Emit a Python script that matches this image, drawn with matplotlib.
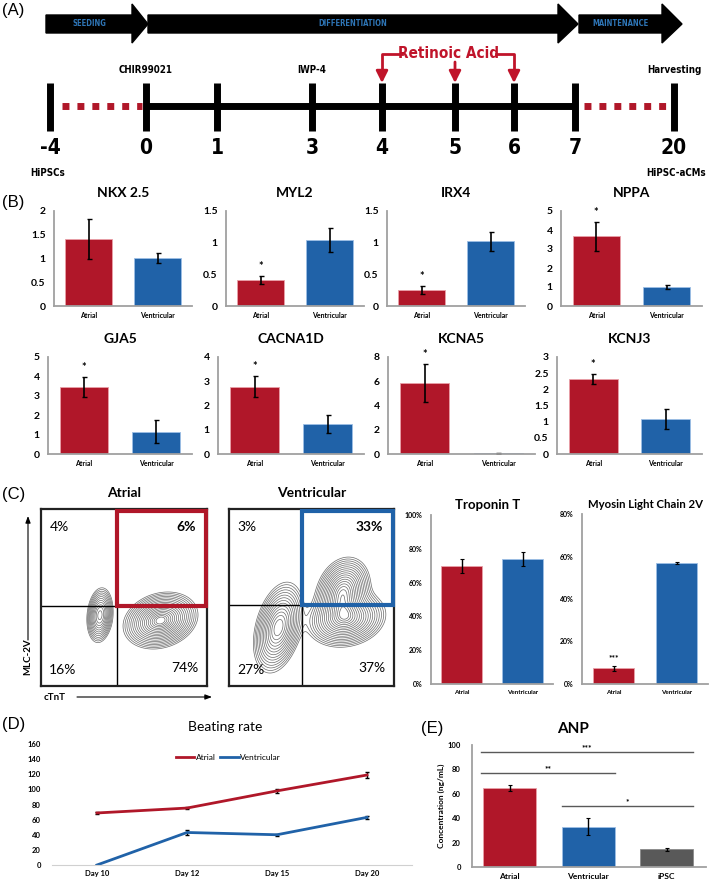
import matplotlib
matplotlib.use("Agg")
import matplotlib.pyplot as plt
import numpy as np
from matplotlib.patches import Polygon, Rectangle

# ---------------- data ----------------
# (A) protocol timeline
stage_names = ["SEEDING", "DIFFERENTIATION", "MAINTENANCE"]
timeline_days = ["-4", "0", "1", "3", "4", "5", "6", "7", "20"]
timeline_top = ["", "CHIR99021", "", "IWP-4", "", "", "", "", "Harvesting"]
retinoic_days = ["4", "5", "6"]

# (B) qPCR, relative expression
gene_names = ["NKX 2.5", "MYL2", "IRX4", "NPPA", "GJA5", "CACNA1D", "KCNA5", "KCNJ3"]
atrial_expr = [1.41, 0.41, 0.25, 3.66, 3.45, 2.78, 5.84, 2.32]
atrial_err = [0.42, 0.06, 0.065, 0.78, 0.51, 0.44, 1.55, 0.16]
vent_expr = [1.01, 1.04, 1.02, 1.01, 1.15, 1.22, 0.05, 1.09]
vent_err = [0.10, 0.19, 0.15, 0.12, 0.60, 0.37, 0.03, 0.31]
gene_ymax = [2, 1.5, 1.5, 5, 5, 4, 8, 3]
gene_ystep = [0.5, 0.5, 0.5, 1, 1, 1, 2, 0.5]
gene_star = [False, True, True, True, True, True, True, True]

groups = ["Atrial", "Ventricular"]

# (C) flow cytometry quadrants [UL, UR, LL, LR]
flow_atrial_pct = ["4%", "6%", "16%", "74%"]
flow_vent_pct = ["3%", "33%", "27%", "37%"]
# populations: centre x, centre y, sd along axis, sd across, axis angle (deg), weight
atrial_pops = [(0.355, 0.40, 0.068, 0.034, 84, 0.60),
               (0.72, 0.37, 0.092, 0.062, 15, 1.00)]
vent_pops = [(0.30, 0.33, 0.110, 0.058, 74, 0.80),
             (0.69, 0.53, 0.085, 0.065, 65, 0.85),
             (0.71, 0.38, 0.100, 0.065, 10, 0.85)]
tnt_pct = [69.8, 74.0]
tnt_err = [4.3, 4.0]
mlc_pct = [7.4, 56.8]
mlc_err = [1.2, 0.5]

# (D) beating rate
days = ["Day 10", "Day 12", "Day 15", "Day 20"]
beat_atrial = [68.8, 75.3, 98.0, 119.0]
beat_atrial_err = [1.5, 1.5, 3.0, 3.5]
beat_vent = [0.0, 43.0, 40.0, 63.0]
beat_vent_err = [0.0, 3.0, 1.0, 2.0]

# (E) ANP ELISA
anp_groups = ["Atrial", "Ventricular", "iPSC"]
anp_conc = [64.8, 33.1, 14.6]
anp_err = [2.7, 6.7, 1.3]
anp_sig = [("***", 0, 2, 94), ("**", 0, 1, 77), ("*", 1, 2, 50)]

# ---------------- style ----------------
RED = "#B01729"
BLUE = "#2062A8"
GREY = "#595959"
SPINE = "#A0A0A0"
LABEL_BLUE = "#2E75B6"
CAL = ["Lato", "DejaVu Sans"]
NARROW = dict(family="DejaVu Sans", fontstretch="condensed", weight="bold")
plt.rcParams["font.family"] = CAL

W, H = 709, 885
fig = plt.figure(figsize=(W / 100, H / 100), dpi=100)
base = fig.add_axes([0, 0, 1, 1])
base.set_xlim(0, W)
base.set_ylim(H, 0)
base.axis("off")


def px_axes(x0, y0, x1, y1):
    return fig.add_axes([x0 / W, 1 - y1 / H, (x1 - x0) / W, (y1 - y0) / H])


def panel_label(x, y, s):
    base.text(x, y, s, fontsize=12, family="Liberation Sans", va="center", ha="left")


# ---------------- (A) ----------------
panel_label(2, 10, "(A)")
arrow_x = [(46, 132, 148), (148, 558, 578), (579, 662, 682)]
for name, (x0, xh, x1) in zip(stage_names, arrow_x):
    pts = [(x0, 15), (xh, 15), (xh, 4), (x1, 24), (xh, 43), (xh, 33), (x0, 33)]
    base.add_patch(Polygon(pts, closed=True, color="black"))
    base.text((x0 + xh) / 2, 24, name, color=LABEL_BLUE, fontsize=5.5,
              ha="center", va="center", **NARROW)

tick_x = [50, 146, 217, 312, 382, 455, 514, 575, 674]
base.plot([tick_x[1], tick_x[7]], [106, 106], color="black", lw=5, solid_capstyle="butt")
for xa, xb in [(62, 142), (584, 670)]:
    base.plot([xa, xb], [106, 106], color=RED, lw=5, dash_capstyle="butt",
              linestyle=(0, (1, 1.15)))
for x, d, top in zip(tick_x, timeline_days, timeline_top):
    base.plot([x, x], [83, 131], color="black", lw=5, solid_capstyle="butt")
    base.text(x, 148, d, fontsize=15, ha="center", va="center", **NARROW)
    if top:
        base.text(x, 70, top, fontsize=7, ha="center", va="center", **NARROW)
base.text(48, 173, "HiPSCs", fontsize=7, ha="center", va="center", **NARROW)
base.text(706, 173, "HiPSC-aCMs", fontsize=7, ha="right", va="center", **NARROW)

# retinoic acid bracket
RA = "#C0142A"
ra_x = [tick_x[timeline_days.index(d)] for d in retinoic_days]
base.text(449, 53, "Retinoic Acid", color=RA, fontsize=11, ha="center", va="center",
          **NARROW)
arw = dict(arrowstyle="-|>,head_width=0.35,head_length=0.7", color=RA, lw=2,
           shrinkA=0, shrinkB=0)
base.plot([402, ra_x[0], ra_x[0]], [54, 54, 72], color=RA, lw=2)
base.plot([496, ra_x[2], ra_x[2]], [54, 54, 72], color=RA, lw=2)
for x, y0 in zip(ra_x, [71, 62, 71]):
    base.annotate("", xy=(x, 83), xytext=(x, y0), arrowprops=arw)

# ---------------- (B) ----------------
panel_label(2, 202, "(B)")
row1 = [(54, 192), (226, 364), (387, 525), (561, 702)]
row2 = [(48, 192), (218, 364), (388, 535), (557, 702)]
boxes = [(a, b, 211, 306) for a, b in row1] + [(a, b, 357, 454) for a, b in row2]


def style_bar_axes(ax, ysize, xsize):
    for s in ["top", "right"]:
        ax.spines[s].set_visible(False)
    for s in ["left", "bottom"]:
        ax.spines[s].set_color(SPINE)
        ax.spines[s].set_linewidth(1.3)
    ax.tick_params(axis="both", length=0)
    ax.tick_params(axis="y", labelsize=ysize, pad=6)
    ax.tick_params(axis="x", labelsize=xsize, pad=4)
    for lab in ax.get_yticklabels() + ax.get_xticklabels():
        lab.set_fontweight("bold")


for i, name in enumerate(gene_names):
    x0, x1, y0, y1 = boxes[i]
    ax = px_axes(x0, y0, x1, y1)
    xs = np.arange(2)
    ax.bar(xs, [atrial_expr[i], vent_expr[i]], width=0.67, color=[RED, BLUE],
           edgecolor=["#E9A0A8", "#9DBFE6"], linewidth=0.6)
    ax.errorbar(xs, [atrial_expr[i], vent_expr[i]], yerr=[atrial_err[i], vent_err[i]],
                fmt="none", ecolor="black", elinewidth=1.2, capsize=1.8, capthick=1)
    ymax = gene_ymax[i]
    ticks = np.arange(0, ymax + 1e-9, gene_ystep[i])
    ax.set_ylim(0, ymax)
    ax.set_xlim(-0.5, 1.5)
    ax.set_yticks(ticks)
    ax.set_yticklabels(["%g" % t for t in ticks])
    ax.set_xticks(xs)
    ax.set_xticklabels(groups)
    style_bar_axes(ax, 7.5, 5)
    if gene_star[i]:
        ax.text(0, atrial_expr[i] + atrial_err[i] + 0.1 * ymax, "*", ha="center",
                va="center", fontsize=8, weight="bold")
    base.text((x0 + x1) / 2, y0 - 18, name, fontsize=10, weight="bold",
              ha="center", va="center")

# ---------------- (C) ----------------
panel_label(2, 495, "(C)")


def flow_panel(x0, x1, vx, hy, pops, pct, color, title):
    ax = px_axes(x0, 509, x1, 686)
    ax.set_xlim(0, 1)
    ax.set_ylim(0, 1)
    ax.set_xticks([])
    ax.set_yticks([])
    for s in ax.spines.values():
        s.set_linewidth(1.6)
        s.set_color("#222222")
    gx, gy = np.meshgrid(np.linspace(0, 1, 300), np.linspace(0, 1, 300))
    dens = np.zeros_like(gx)
    for cx, cy, sa, sb, ang, w in pops:
        a = np.deg2rad(ang)
        u = (gx - cx) * np.cos(a) + (gy - cy) * np.sin(a)
        v = -(gx - cx) * np.sin(a) + (gy - cy) * np.cos(a)
        dens += w * np.exp(-0.5 * ((u / sa) ** 2 + (v / sb) ** 2))
    # contour levels evenly spaced in radius
    radii = np.linspace(2.5, 0.3, 18)
    levels = np.exp(-0.5 * radii ** 2) * dens.max()
    ax.contour(gx, gy, dens, levels=levels, colors="#6a6a6a", linewidths=0.5)
    ax.axvline(vx, color="black", lw=1)
    ax.axhline(hy, color="black", lw=1)
    ax.add_patch(Rectangle((vx, hy), 0.995 - vx, 0.99 - hy, fill=False, edgecolor=color,
                           lw=3, zorder=5, clip_on=False))
    ax.text(0.05, 0.90, pct[0], fontsize=10, ha="left", va="center")
    ax.text(0.93, 0.90, pct[1], fontsize=10, ha="right", va="center", weight="bold")
    ax.text(0.05, 0.09, pct[2], fontsize=10, ha="left", va="center")
    ax.text(0.95, 0.10, pct[3], fontsize=10, ha="right", va="center")
    base.text((x0 + x1) / 2, 493, title, fontsize=10, weight="bold", ha="center", va="center")


flow_panel(41, 207, 0.46, 0.45, atrial_pops, flow_atrial_pct, RED, "Atrial")
flow_panel(229, 394, 0.44, 0.455, vent_pops, flow_vent_pct, BLUE, "Ventricular")
base.text(28, 657, "MLC-2V", rotation=90, fontsize=7, weight="bold", ha="center", va="center")
base.annotate("", xy=(28, 516), xytext=(28, 640),
              arrowprops=dict(arrowstyle="-|>,head_width=0.15,head_length=0.4", lw=0.8,
                              color="black", shrinkA=0, shrinkB=0))
base.text(55, 697, "cTnT", fontsize=7, weight="bold", ha="center", va="center")
base.annotate("", xy=(212, 697), xytext=(77, 697),
              arrowprops=dict(arrowstyle="-|>,head_width=0.15,head_length=0.4", lw=0.8,
                              color="black", shrinkA=0, shrinkB=0))


def pct_bars(x0, x1, y0, vals, errs, ymax, title, tx, fs, star=None):
    ax = px_axes(x0, y0, x1, 684)
    xs = np.arange(2)
    ax.bar(xs, vals, width=0.66, color=[RED, BLUE], edgecolor=["#E9A0A8", "#9DBFE6"],
           linewidth=0.6)
    ax.errorbar(xs, vals, yerr=errs, fmt="none", ecolor="black", elinewidth=1,
                capsize=1.5, capthick=0.8)
    ax.set_xlim(-0.5, 1.5)
    ax.set_ylim(0, ymax)
    ticks = np.arange(0, ymax + 1, 20)
    ax.set_yticks(ticks)
    ax.set_yticklabels(["%d%%" % t for t in ticks])
    ax.set_xticks(xs)
    ax.set_xticklabels(groups)
    style_bar_axes(ax, 5, 4.5)
    if star:
        ax.text(0, vals[0] + errs[0] + 0.045 * ymax, star, ha="center", va="center",
                fontsize=6, weight="bold")
    base.text(tx, 505, title, fontsize=fs, weight="bold", ha="center", va="center")


pct_bars(431, 553, 515, tnt_pct, tnt_err, 100, "Troponin T", 488, 9.5)
pct_bars(582, 708, 514, mlc_pct, mlc_err, 80, "Myosin Light Chain 2V", 645, 8.2,
         star="***")

# ---------------- (D) ----------------
panel_label(2, 724, "(D)")
axd = px_axes(52, 744, 412, 865)
xd = np.arange(len(days))
axd.errorbar(xd, beat_atrial, yerr=beat_atrial_err, color=RED, lw=2, ecolor="black",
             elinewidth=1, capsize=1.5)
axd.errorbar(xd, beat_vent, yerr=beat_vent_err, color=BLUE, lw=2, ecolor="black",
             elinewidth=1, capsize=1.5)
axd.plot([], [], color=RED, lw=2, label="Atrial")
axd.plot([], [], color=BLUE, lw=2, label="Ventricular")
axd.set_xlim(-0.5, 3.5)
axd.set_ylim(0, 160)
axd.set_yticks(np.arange(0, 161, 20))
axd.set_xticks(xd)
axd.set_xticklabels(days)
for s in ["top", "right", "left"]:
    axd.spines[s].set_visible(False)
axd.spines["bottom"].set_color("#D0D0D0")
axd.tick_params(length=0, labelsize=5.5)
axd.tick_params(axis="y", pad=8)
for lab in axd.get_yticklabels() + axd.get_xticklabels():
    lab.set_fontweight("bold")
leg = axd.legend(loc="center", bbox_to_anchor=(0.49, 0.89), ncol=2, frameon=False,
                 fontsize=6, handlelength=2.2, handletextpad=0.2, columnspacing=0.6)
base.text(225, 727, "Beating rate", fontsize=10, ha="center", va="center")

# ---------------- (E) ----------------
base.text(421, 728, "(E)", fontsize=12, family="Liberation Sans", va="center", ha="left")
axe = px_axes(472, 745, 706, 867)
xe = np.arange(len(anp_groups))
axe.bar(xe, anp_conc, width=0.67, color=[RED, BLUE, GREY],
        edgecolor=["#E9A0A8", "#9DBFE6", "#8A8A8A"], linewidth=0.6)
axe.errorbar(xe, anp_conc, yerr=anp_err, fmt="none", ecolor="black", elinewidth=1,
             capsize=1.5, capthick=0.8)
axe.set_xlim(-0.48, 2.5)
axe.set_ylim(0, 100)
axe.set_yticks(np.arange(0, 101, 20))
axe.set_xticks(xe)
axe.set_xticklabels(anp_groups)
style_bar_axes(axe, 5.5, 6)
axe.tick_params(axis="y", pad=8)
axe.set_ylabel("Concentration (ng/mL)", fontsize=6, weight="bold", labelpad=2)
for s, a, b, y in anp_sig:
    xa = a - 0.37 if a == 0 else a - 0.34
    xb = b + 0.34
    axe.plot([xa, xb], [y, y], color=GREY, lw=1)
    axe.text((xa + xb) / 2, y + 1, s, ha="center", va="bottom", fontsize=6, weight="bold")
base.text(573, 729, "ANP", fontsize=11, weight="bold", ha="center", va="center")

fig.savefig("out.png", dpi=100)
